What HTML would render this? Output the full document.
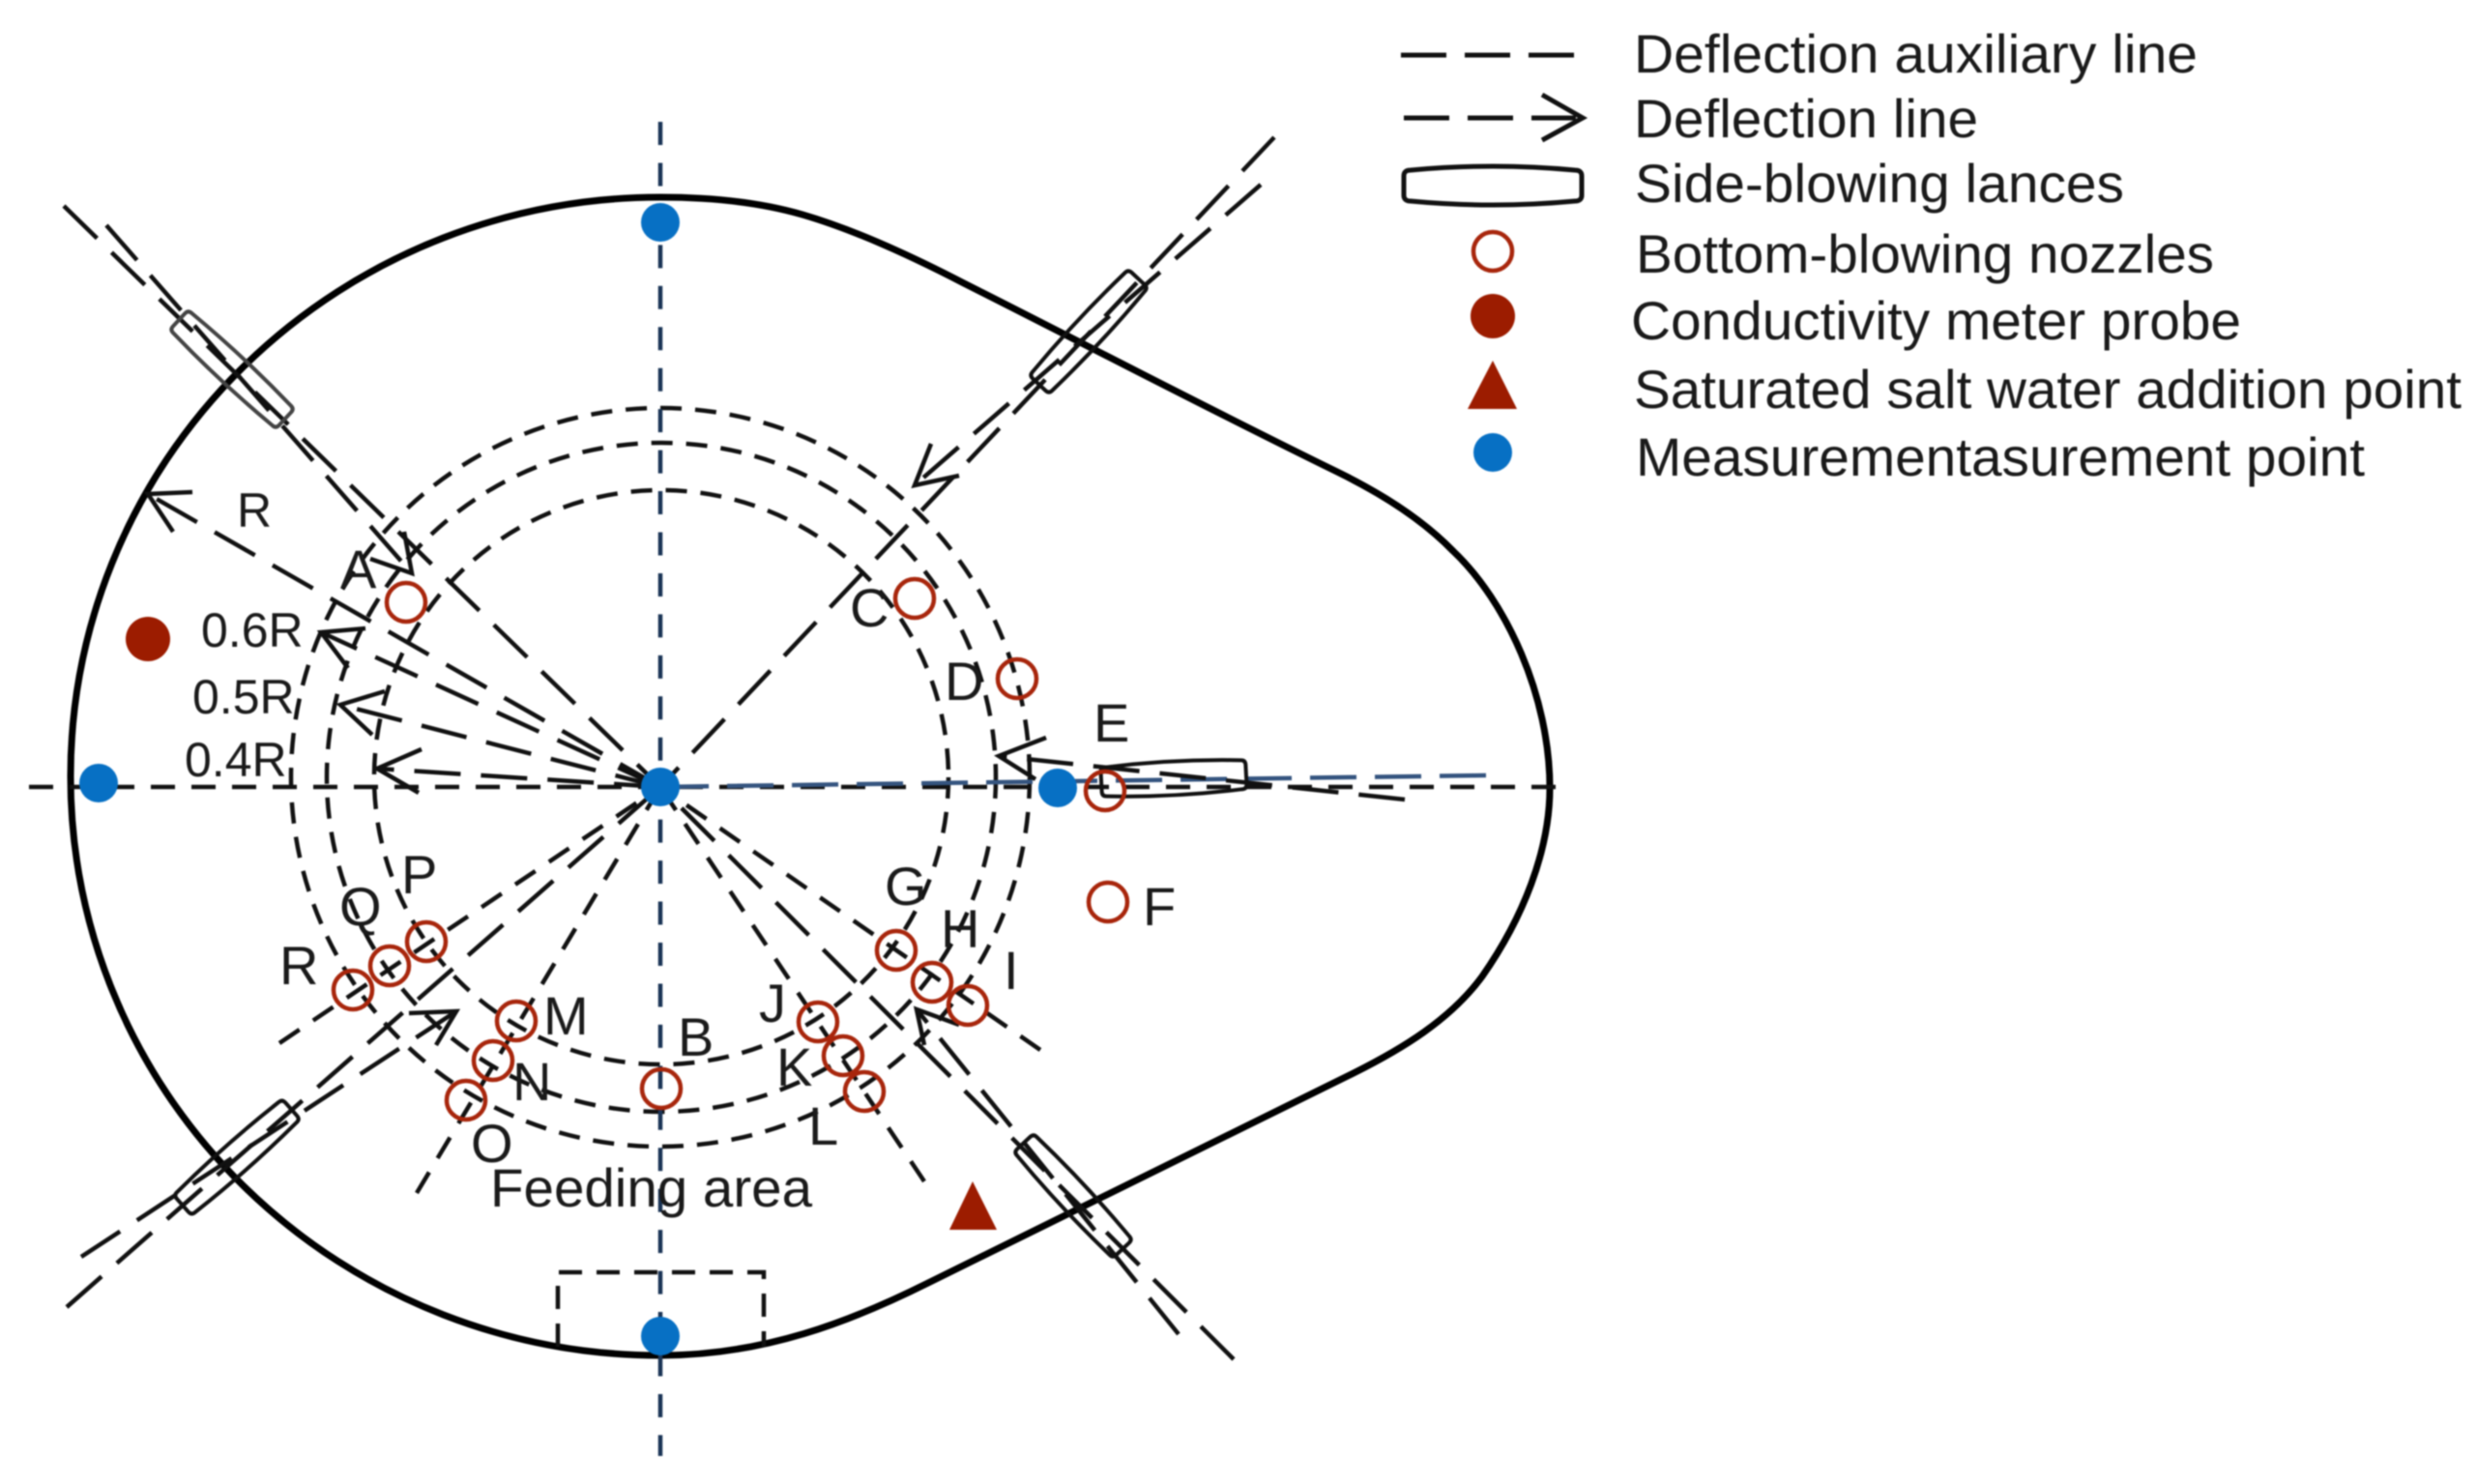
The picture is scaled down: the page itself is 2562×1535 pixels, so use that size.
<!DOCTYPE html>
<html lang="en">
<head>
<meta charset="utf-8">
<title>Deflection diagram</title>
<style>
html,body{margin:0;padding:0;background:#fff;width:2562px;height:1535px;overflow:hidden}
svg{display:block;filter:blur(0.7px)}
text{font-family:"Liberation Sans",Arial,sans-serif;fill:#1a1a1a}
</style>
</head>
<body>
<svg xmlns="http://www.w3.org/2000/svg" width="2562" height="1535" viewBox="0 0 2562 1535">
<rect width="2562" height="1535" fill="#fff"/>

<!-- vessel outline -->
<path d="M683,204 C735,204 785,209 830,222 C885,238 945,266 997,293 C1130,360 1250,423 1383,488 C1428,510 1470,536 1503,570 C1558,622 1603,720 1603,815 C1603,880 1575,950 1533,1010 C1500,1055 1450,1085 1400,1110 L960,1327 C880,1367 790,1402 683,1402 A610,599 0 0 1 73,803 A610,599 0 0 1 683,204 Z" fill="none" stroke="#000" stroke-width="7"/>

<!-- concentric rings -->
<g fill="none" stroke="#111" stroke-width="4.5" stroke-dasharray="22 14">
<circle cx="683" cy="804" r="382"/>
<circle cx="684" cy="804" r="346"/>
<circle cx="684" cy="804" r="297"/>
</g>

<!-- axes -->
<path d="M30,814 H1613" stroke="#111" stroke-width="4.5" stroke-dasharray="25 17" fill="none"/>
<path d="M683,126 V1506" stroke="#1b3557" stroke-width="4.5" stroke-dasharray="24 18.45" fill="none"/>
<path d="M1537,802 L683,814" stroke="#34547f" stroke-width="4.5" stroke-dasharray="48 19" fill="none"/>

<!-- feeding area -->
<path d="M577,1393 V1316 H790 V1393" stroke="#111" stroke-width="4.5" stroke-dasharray="24 15" fill="none"/>

<!-- radial short-dash lines -->
<g fill="none" stroke="#111" stroke-width="4.5" stroke-dasharray="25 17">
<path d="M289,1079 L683,814"/>
<path d="M431,1234 L683,814"/>
<path d="M956,1222 L683,814"/>
<path d="M1076,1086 L683,814"/>
</g>

<!-- auxiliary long-dash lines -->
<g fill="none" stroke="#111" stroke-width="4.5" stroke-dasharray="48 21">
<path d="M1318,142 L683,814"/>
<path d="M66,213 L683,814"/>
<path d="M69,1352 L683,814"/>
<path d="M1276,1406 L683,814"/>
<!-- deflection lines -->
<path d="M1304,191 L946,502"/>
<path d="M110,233 L426,593"/>
<path d="M84,1300 L472,1046"/>
<path d="M1219,1380 L948,1044"/>
<path d="M1453,827 L1033,782"/>
<!-- radius lines -->
<path d="M683,814 L153,511"/>
<path d="M683,814 L332,654"/>
<path d="M683,814 L352,729"/>
<path d="M683,814 L390,795"/>
</g>

<!-- arrowheads -->
<g fill="none" stroke="#111" stroke-width="4.5">
<path d="M963,459 L946,502 L992,492"/>
<path d="M418,550 L426,593 L383,578"/>
<path d="M423,1048 L472,1046 L451,1081"/>
<path d="M956,1081 L948,1044 L992,1060"/>
<path d="M1082,763 L1033,782 L1071,806"/>
<path d="M199,509 L153,511 L179,550"/>
<path d="M378,650 L332,654 L360,691"/>
<path d="M398,715 L352,729 L385,760"/>
<path d="M436,775 L390,795 L433,820"/>
</g>

<!-- lances -->
<g fill="none" stroke="#111" stroke-width="4">
<path transform="translate(240,382) rotate(43)" stroke="#444" d="M-70,-14 Q0,-18 70,-14 Q75,-14 75,-9 V9 Q75,14 70,14 Q0,18 -70,14 Q-75,14 -75,9 V-9 Q-75,-14 -70,-14Z"/>
<path transform="translate(1126,343) rotate(-47)" d="M-70,-14 Q0,-18 70,-14 Q75,-14 75,-9 V9 Q75,14 70,14 Q0,18 -70,14 Q-75,14 -75,9 V-9 Q-75,-14 -70,-14Z"/>
<path transform="translate(245,1197) rotate(-41.5)" d="M-70,-14 Q0,-18 70,-14 Q75,-14 75,-9 V9 Q75,14 70,14 Q0,18 -70,14 Q-75,14 -75,9 V-9 Q-75,-14 -70,-14Z"/>
<path transform="translate(1110,1237) rotate(47)" d="M-70,-14 Q0,-18 70,-14 Q75,-14 75,-9 V9 Q75,14 70,14 Q0,18 -70,14 Q-75,14 -75,9 V-9 Q-75,-14 -70,-14Z"/>
<path transform="translate(1214,805) rotate(-3)" d="M-70,-15 Q0,-20 70,-15 Q75,-15 75,-10 V10 Q75,15 70,15 Q0,20 -70,15 Q-75,15 -75,10 V-10 Q-75,-15 -70,-15Z"/>
</g>

<!-- nozzles -->
<g fill="none" stroke="#a8260c" stroke-width="4.5">
<circle cx="420" cy="623" r="20"/>
<circle cx="946" cy="619" r="20"/>
<circle cx="1052" cy="702" r="20"/>
<circle cx="1143" cy="818" r="20"/>
<circle cx="1146" cy="933" r="20"/>
<circle cx="927" cy="983" r="20"/>
<circle cx="964" cy="1016" r="20"/>
<circle cx="1001" cy="1040" r="20"/>
<circle cx="846" cy="1057" r="20"/>
<circle cx="872" cy="1092" r="20"/>
<circle cx="894" cy="1129" r="20"/>
<circle cx="684" cy="1126" r="20"/>
<circle cx="534" cy="1056" r="20"/>
<circle cx="510" cy="1097" r="20"/>
<circle cx="482" cy="1138" r="20"/>
<circle cx="441" cy="974" r="20"/>
<circle cx="403" cy="999" r="20"/>
<circle cx="365" cy="1024" r="20"/>
</g>

<!-- measurement points -->
<g fill="#0770c4">
<circle cx="683" cy="814" r="20"/>
<circle cx="683" cy="230" r="20"/>
<circle cx="102" cy="810" r="20"/>
<circle cx="1094" cy="815" r="20"/>
<circle cx="683" cy="1382" r="20"/>
</g>
<circle cx="153" cy="661" r="23" fill="#9c1c00"/>
<path d="M1006,1222 L1031,1272 H982 Z" fill="#9c1c00"/>

<!-- diagram labels -->
<g font-size="50">
<text x="245" y="545">R</text>
<text x="208" y="669">0.6R</text>
<text x="199" y="738">0.5R</text>
<text x="191" y="803">0.4R</text>
</g>
<g font-size="56">
<text x="352" y="608">A</text>
<text x="879" y="648">C</text>
<text x="977" y="724">D</text>
<text x="1131" y="767">E</text>
<text x="1182" y="957">F</text>
<text x="915" y="936">G</text>
<text x="973" y="980">H</text>
<text x="1038" y="1023">I</text>
<text x="785" y="1057">J</text>
<text x="803" y="1123">K</text>
<text x="836" y="1184">L</text>
<text x="701" y="1092">B</text>
<text x="562" y="1070">M</text>
<text x="530" y="1138">N</text>
<text x="487" y="1202">O</text>
<text x="415" y="924">P</text>
<text x="351" y="957">Q</text>
<text x="289" y="1018">R</text>
<text x="507" y="1248" textLength="333" lengthAdjust="spacingAndGlyphs">Feeding area</text>
</g>

<!-- legend -->
<path d="M1449,57 H1631" stroke="#111" stroke-width="5" stroke-dasharray="47 19" fill="none"/>
<path d="M1452,122 H1630" stroke="#111" stroke-width="5" stroke-dasharray="47 19" fill="none"/>
<path d="M1595,98 L1637,122 L1595,145" stroke="#111" stroke-width="5" fill="none"/>
<path transform="translate(1544,192)" d="M-85,-16 Q0,-24 85,-16 Q92,-16 92,-10 V10 Q92,16 85,16 Q0,24 -85,16 Q-92,16 -92,10 V-10 Q-92,-16 -85,-16Z" fill="none" stroke="#111" stroke-width="5"/>
<circle cx="1544" cy="260" r="20" fill="none" stroke="#a8260c" stroke-width="4.5"/>
<circle cx="1544" cy="327" r="23" fill="#9c1c00"/>
<path d="M1544,373 L1569,423 H1518 Z" fill="#9c1c00"/>
<circle cx="1544" cy="468" r="20" fill="#0770c4"/>

<g font-size="56">
<text x="1690" y="75" textLength="583" lengthAdjust="spacingAndGlyphs">Deflection auxiliary line</text>
<text x="1690" y="142" textLength="356" lengthAdjust="spacingAndGlyphs">Deflection line</text>
<text x="1691" y="209" textLength="506" lengthAdjust="spacingAndGlyphs">Side-blowing lances</text>
<text x="1692" y="282" textLength="598" lengthAdjust="spacingAndGlyphs">Bottom-blowing nozzles</text>
<text x="1687" y="351" textLength="631" lengthAdjust="spacingAndGlyphs">Conductivity meter probe</text>
<text x="1690" y="422" textLength="856" lengthAdjust="spacingAndGlyphs">Saturated salt water addition point</text>
<text x="1692" y="492" textLength="754" lengthAdjust="spacingAndGlyphs">Measurementasurement point</text>
</g>
</svg>
</body>
</html>
